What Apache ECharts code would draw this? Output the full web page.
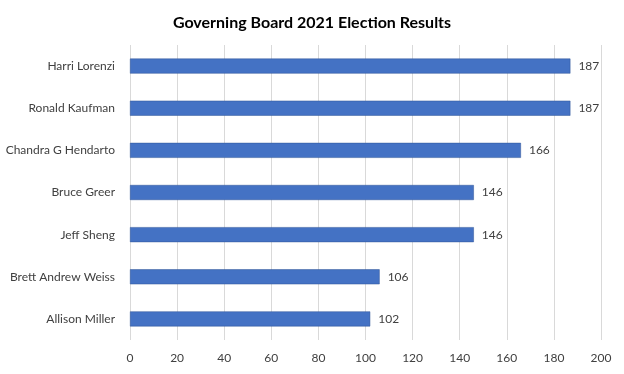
<!DOCTYPE html>
<html><head><meta charset="utf-8">
<script src="https://cdn.jsdelivr.net/npm/echarts@6/dist/echarts.min.js"></script>
<style>html,body{margin:0;padding:0;background:#fff}#c{width:624px;height:374px}</style>
</head><body><div id="c"></div>
<script>
const categories = ["Allison Miller","Brett Andrew Weiss","Jeff Sheng","Bruce Greer","Chandra G Hendarto","Ronald Kaufman","Harri Lorenzi"];
const votes = [102,106,146,146,166,187,187];
const xTicks = [0,20,40,60,80,100,120,140,160,180,200];
const titleText = "Governing Board 2021 Election Results";

const chart = echarts.init(document.getElementById('c'), null, {renderer:'canvas'});
chart.setOption({
  animation:false,
  backgroundColor:'#ffffff',
  title:{text:titleText,left:'center',top:10,textStyle:{fontFamily:'Lato',fontWeight:'bold',fontSize:16,color:'#000'}},
  grid:{left:130,right:23,top:45,bottom:34,containLabel:false,outerBoundsMode:'none'},
  xAxis:{type:'value',min:xTicks[0],max:xTicks[xTicks.length-1],interval:20,
    axisLine:{show:false},axisTick:{show:false},
    axisLabel:{color:'#404040',fontFamily:'Lato',fontSize:12,margin:12},
    splitLine:{lineStyle:{color:'#d9d9d9',width:1}}},
  yAxis:{type:'category',data:categories,
    axisLine:{show:false},axisTick:{show:false},
    axisLabel:{color:'#404040',fontFamily:'Lato',fontSize:12,margin:15}},
  series:[{type:'bar',data:votes,barWidth:15,
    itemStyle:{color:'#4472C4',borderColor:'#2F5597',borderWidth:0.5},
    label:{show:true,position:'right',distance:8,color:'#404040',fontFamily:'Lato',fontSize:12}}]
});
</script></body></html>
